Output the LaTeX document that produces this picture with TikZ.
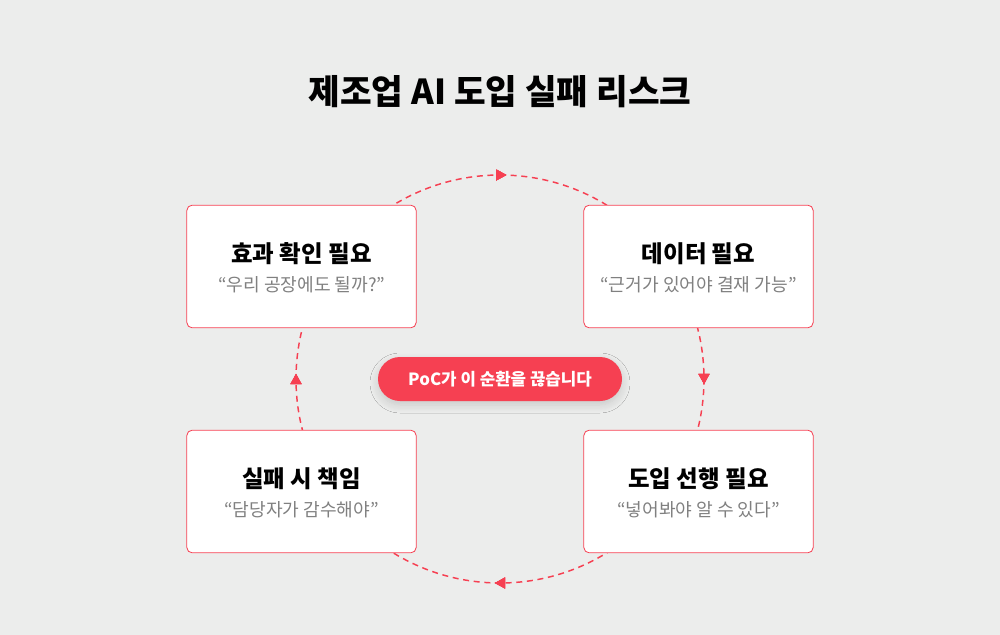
\documentclass[tikz,border=0pt]{standalone}
\usepackage{fontspec}
\setmainfont{Noto Sans CJK KR}
\usetikzlibrary{decorations.markings,shadows.blur}
\definecolor{bgc}{RGB}{236,237,236}
\definecolor{redc}{RGB}{246,64,82}
\definecolor{grayc}{RGB}{128,128,128}
\tikzset{every picture/.style={line width=0.75pt}}
\tikzset{
  card/.style={draw=redc,fill=white,rounded corners=4pt,minimum width=172pt,minimum height=92pt,line width=0.6pt},
  head/.style={font=\fontsize{17.6}{20}\selectfont\bfseries},
  quote/.style={font=\fontsize{13.6}{16}\selectfont,text=grayc},
  mark tip/.style={postaction={decorate},decoration={markings,mark=at position #1 with {\fill[redc] (3.8pt,0) -- (-3.8pt,4.2pt) -- (-3.8pt,-4.2pt) -- cycle;}}}
}
\begin{document}
\begin{tikzpicture}[x=0.75pt,y=0.75pt,yscale=-1,xscale=1]
\fill[bgc] (0,0) rectangle (1000,635);

% title
\node (title) at (500,92) {\fontsize{25.8}{30}\selectfont\bfseries 제조업 AI 도입 실패 리스크};

% cycle (clockwise from top)
\draw[redc,line width=1.1pt,dash pattern=on 4.5pt off 3.5pt,
  mark tip=0.001,mark tip=0.25,mark tip=0.5,mark tip=0.75]
  (500,175) arc[start angle=-90,end angle=270,radius=204];

% cards
\node[card] (need) at (301.5,266.5) {};
\node[head] at (301.5,254) {효과 확인 필요};
\node[quote] at (301.5,285) {“우리 공장에도 될까?”};

\node[card] (data) at (698.5,266.5) {};
\node[head] at (698.5,254) {데이터 필요};
\node[quote] at (698.5,285) {“근거가 있어야 결재 가능”};

\node[card] (fail) at (301.5,491.5) {};
\node[head] at (301.5,479) {실패 시 책임};
\node[quote] at (301.5,510) {“담당자가 감수해야”};

\node[card] (intro) at (698.5,491.5) {};
\node[head] at (698.5,479) {도입 선행 필요};
\node[quote] at (698.5,510) {“넣어봐야 알 수 있다”};

% center pill
\node[fill=redc,rounded corners=16.5pt,minimum width=183pt,minimum height=33pt,text=white,
  blur shadow={shadow blur steps=10,shadow blur radius=6pt,shadow xshift=0pt,shadow yshift=-3pt,shadow opacity=15},
  font=\fontsize{12.6}{15}\selectfont\bfseries] (poc) at (500,379) {PoC가 이 순환을 끊습니다};
\end{tikzpicture}
\end{document}
